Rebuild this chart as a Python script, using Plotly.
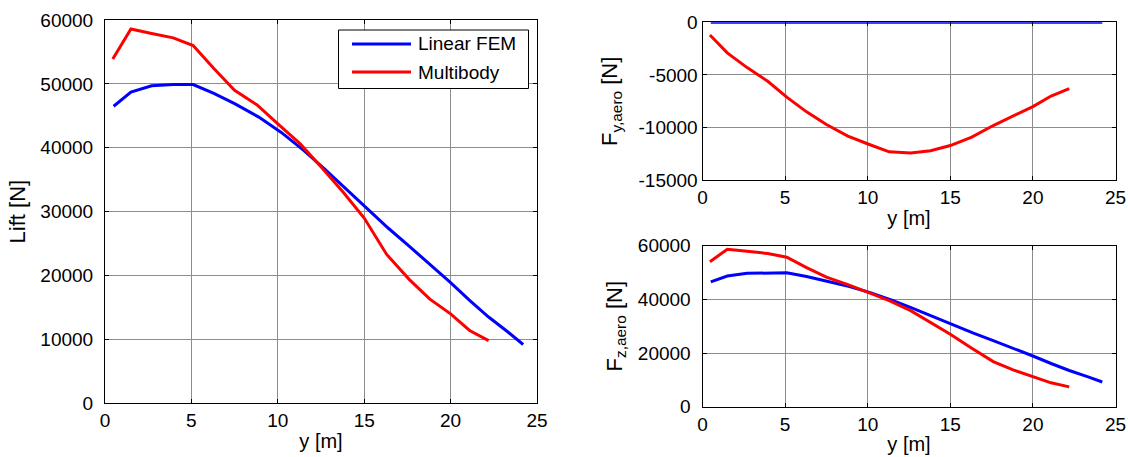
import plotly.graph_objects as go

# Spanwise stations [m]
y_fem = [0.5, 1.5, 2.7, 3.95, 5.1, 6.3, 7.5, 8.9, 10.2, 11.5, 12.7, 14.0,
         15.2, 16.4, 17.6, 18.8, 20.0, 21.1, 22.2, 23.3, 24.2]
y_mb = [0.45, 1.5, 2.7, 3.95, 5.1, 6.3, 7.5, 8.8, 10.1, 11.3, 12.6, 13.8,
        15.0, 16.3, 17.6, 18.8, 20.0, 21.1, 22.2]

# Linear FEM loads [N]
lift_fem = [46500, 48700, 49700, 49900, 49900, 48500, 46900, 44800, 42400,
            39600, 36700, 33400, 30400, 27400, 24600, 21800, 18900, 16100,
            13500, 11200, 9200]
fy_fem = [0] * len(y_fem)
fz_fem = lift_fem

# Multibody loads [N]
lift_mb = [53900, 58600, 57900, 57200, 56000, 52400, 49000, 46700, 43500,
           40600, 36700, 33000, 29000, 23300, 19400, 16300, 14000, 11400, 9800]
fy_mb = [-1200, -2900, -4300, -5600, -7100, -8500, -9700, -10800, -11600,
         -12300, -12400, -12200, -11700, -10900, -9800, -8900, -8000, -7000, -6300]
fz_mb = [54000, 58700, 57900, 57100, 55700, 51800, 48300, 45500, 42400,
         39500, 35800, 31500, 27000, 21800, 16800, 13700, 11100, 8900, 7400]

x_ticks = [0, 5, 10, 15, 20, 25]
lift_ticks = [0, 10000, 20000, 30000, 40000, 50000, 60000]
fy_ticks = [-15000, -10000, -5000, 0]
fz_ticks = [0, 20000, 40000, 60000]

series_names = ["Linear FEM", "Multibody"]
BLUE = "#0000ff"
RED = "#ff0000"

W, H = 1128, 457
FONT = "Liberation Sans, Arial, sans-serif"
TICK_SIZE = 19
XTITLE_SIZE = 20
YTITLE_SIZE = 22

fig = go.Figure()

def add(x, y, color, xa, ya):
    fig.add_trace(go.Scatter(x=x, y=y, mode="lines", xaxis=xa, yaxis=ya,
                             line=dict(color=color, width=3),
                             showlegend=False, hoverinfo="skip"))

add(y_fem, lift_fem, BLUE, "x", "y")
add(y_mb, lift_mb, RED, "x", "y")
add(y_fem, fy_fem, BLUE, "x2", "y2")
add(y_mb, fy_mb, RED, "x2", "y2")
add(y_fem, fz_fem, BLUE, "x3", "y3")
add(y_mb, fz_mb, RED, "x3", "y3")

def px_x(p):
    return p / W

def px_y(p):
    return 1 - p / H

common = dict(showline=True, linecolor="black", linewidth=1, mirror="ticks",
              ticks="inside", ticklen=4, tickcolor="black",
              showgrid=True, gridcolor="#8c8c8c", gridwidth=1,
              zeroline=False, automargin=False,
              tickfont=dict(family=FONT, size=TICK_SIZE, color="black"))

def xaxis(domain, anchor):
    return dict(common, domain=domain, anchor=anchor, range=[0, 25],
                tickvals=x_ticks, ticktext=[str(v) for v in x_ticks],
                title=dict(text="y [m]", standoff=3,
                           font=dict(family=FONT, size=XTITLE_SIZE, color="black")))

def yaxis(domain, anchor, rng, vals, title, label_gap, title_gap):
    return dict(common, domain=domain, anchor=anchor, range=rng,
                tickvals=vals, ticktext=[str(v) for v in vals],
                ticklabelstandoff=label_gap,
                title=dict(text=title, standoff=title_gap,
                           font=dict(family=FONT, size=YTITLE_SIZE, color="black")))

left_x = [px_x(105), px_x(537)]
right_x = [px_x(702.5), px_x(1115.5)]

fig.update_layout(
    width=W, height=H,
    margin=dict(l=0, r=0, t=0, b=0),
    paper_bgcolor="white", plot_bgcolor="white",
    font=dict(family=FONT, size=TICK_SIZE, color="black"),
    xaxis=xaxis(left_x, "y"),
    yaxis=yaxis([px_y(403.3), px_y(20)], "x", [0, 60000], lift_ticks,
                "Lift [N]", 7, 8),
    xaxis2=xaxis(right_x, "y2"),
    yaxis2=yaxis([px_y(180.3), px_y(22.3)], "x2", [-15000, 0], fy_ticks,
                 "F<sub>y,aero</sub> [N]", 0, 14),
    xaxis3=xaxis(right_x, "y3"),
    yaxis3=yaxis([px_y(406.7), px_y(245.7)], "x3", [0, 60000], fz_ticks,
                 "F<sub>z,aero</sub> [N]", 7, 9),
)

# Legend box inside the lift panel
box_l, box_r, box_t, box_b = 338.5, 528.5, 30, 88.5
fig.add_shape(type="rect", xref="paper", yref="paper",
              x0=px_x(box_l), x1=px_x(box_r), y0=px_y(box_b), y1=px_y(box_t),
              line=dict(color="black", width=1), fillcolor="white", layer="above")
for name, color, yy in zip(series_names, [BLUE, RED], [44, 72]):
    fig.add_shape(type="line", xref="paper", yref="paper",
                  x0=px_x(352), x1=px_x(411), y0=px_y(yy), y1=px_y(yy),
                  line=dict(color=color, width=3), layer="above")
    fig.add_annotation(xref="paper", yref="paper", x=px_x(416), y=px_y(yy),
                       xanchor="left", yanchor="middle", showarrow=False,
                       text=name, font=dict(family=FONT, size=TICK_SIZE, color="black"))

fig.write_html("out.html")
